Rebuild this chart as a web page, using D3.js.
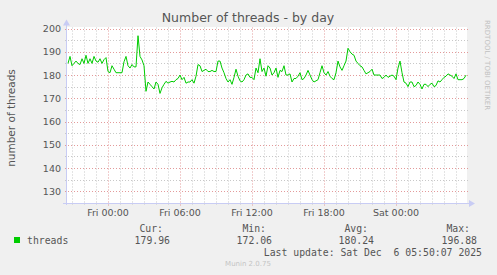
<!DOCTYPE html>
<html>
<head>
<meta charset="utf-8">
<script src="https://cdn.jsdelivr.net/npm/d3@7"></script>
<style>
  html, body { margin: 0; padding: 0; background: #f0f0f0; }
  svg { display: block; }
</style>
</head>
<body>
<div id="chart"></div>
<script>
// threads samples, one every 10 minutes from Thu Dec 4 20:40
var seriesStart = new Date(2025, 11, 4, 20, 40);
var stepMinutes = 10;
var threads = [
  185, 188, 184, 185, 186, 185, 184.5, 187, 185, 188.5,
  185, 187, 185, 188, 186, 185.5, 187, 185, 186.6, 187.5,
  181.5, 181, 184, 182.5, 181, 181, 181, 181, 185.7, 188,
  184, 183, 184.5, 183.5, 183.5, 196.9, 188, 186.5, 184, 173,
  177, 176, 175, 174, 177, 176, 172.1, 174.5, 176, 177.3,
  176.5, 177, 177.3, 177, 178, 178.5, 180, 178, 179, 176.5,
  177, 177, 178, 176.5, 179.5, 184.5, 184, 181.5, 182, 182.5,
  181.5, 181.5, 182, 181.5, 181.5, 186, 186, 183, 181, 178.5,
  177, 178, 176, 179, 182.5, 179.5, 177.5, 177, 178, 180,
  180.5, 179, 179, 178, 183, 181, 187, 181.5, 183, 179.5,
  184, 183, 180, 181, 183, 179, 182, 181.5, 184, 180,
  180, 180.5, 177, 178.5, 178.5, 179.5, 181, 178, 178.5, 180,
  182, 180, 178, 177, 177.5, 178, 181, 184, 181, 180,
  181.5, 179.5, 178.5, 178, 181, 186, 183.5, 182, 184, 186,
  191.5, 190, 189, 188.5, 186, 185, 184, 183.5, 182, 180.5,
  181, 181.5, 182.5, 180, 180, 180, 180, 178.5, 179, 180,
  179, 179.5, 180, 179.5, 178, 183, 186, 181, 177, 176.5,
  175, 177, 177, 175, 175.5, 177, 176, 174, 176, 176,
  175, 176, 176.5, 175, 175.5, 177.5, 177, 178, 179, 179.5,
  180.5, 180, 179.5, 178.5, 180.5, 178, 178, 178, 178.5, 179.96
];
var yTicks = [130, 140, 150, 160, 170, 180, 190, 200];
var statLabels = ["Cur:", "Min:", "Avg:", "Max:"];
var statValues = ["179.96", "172.06", "180.24", "196.88"];
var seriesName = "threads";
var lastUpdate = "Last update: Sat Dec  6 05:50:07 2025";

var width = 497, height = 275;
var plot = { left: 67, right: 467, top: 28.5, bottom: 203 };

var svg = d3.select("#chart").append("svg")
    .attr("width", width)
    .attr("height", height)
    .style("background", "#f0f0f0");

var data = threads.map(function(v, i) {
    return { t: new Date(seriesStart.getTime() + i * stepMinutes * 60000), v: v };
});

var x = d3.scaleTime()
    .domain([new Date(2025, 11, 4, 20, 35), new Date(2025, 11, 6, 5, 55)])
    .range([plot.left, plot.right]);
var y = d3.scaleLinear()
    .domain([125, 200])
    .range([plot.bottom, plot.top]);

// white canvas
svg.append("rect")
    .attr("x", plot.left)
    .attr("y", plot.top - 1.5)
    .attr("width", plot.right - plot.left)
    .attr("height", plot.bottom - plot.top + 1.5)
    .attr("fill", "#ffffff");

// minor grid
var minorY = d3.range(135, 200, 10);
svg.append("g").selectAll("line").data(minorY).enter().append("line")
    .attr("x1", plot.left - 2).attr("x2", plot.right + 1)
    .attr("y1", function(d) { return Math.round(y(d)) + 0.5; })
    .attr("y2", function(d) { return Math.round(y(d)) + 0.5; })
    .attr("stroke", "#c8c8c8").attr("stroke-dasharray", "1,2");

var minorX = x.ticks(d3.timeHour.every(1)).filter(function(d) { return d.getHours() % 6 != 0; });
svg.append("g").selectAll("line").data(minorX).enter().append("line")
    .attr("x1", function(d) { return Math.round(x(d)) + 0.5; })
    .attr("x2", function(d) { return Math.round(x(d)) + 0.5; })
    .attr("y1", plot.top - 1).attr("y2", plot.bottom + 2)
    .attr("stroke", "#c8c8c8").attr("stroke-dasharray", "1,2");

// major grid
svg.append("g").selectAll("line").data(yTicks).enter().append("line")
    .attr("x1", plot.left - 2).attr("x2", plot.right + 1)
    .attr("y1", function(d) { return Math.round(y(d)) + 0.5; })
    .attr("y2", function(d) { return Math.round(y(d)) + 0.5; })
    .attr("stroke", "#e39a9a").attr("stroke-dasharray", "1,2");

var majorX = x.ticks(d3.timeHour.every(6));
svg.append("g").selectAll("line").data(majorX).enter().append("line")
    .attr("x1", function(d) { return Math.round(x(d)) + 0.5; })
    .attr("x2", function(d) { return Math.round(x(d)) + 0.5; })
    .attr("y1", plot.top - 1).attr("y2", plot.bottom + 3)
    .attr("stroke", "#e39a9a").attr("stroke-dasharray", "1,2");

// axes lines with arrows
var axisColor = "#c8ccf4";
svg.append("line")
    .attr("x1", plot.left - 0.5).attr("x2", plot.left - 0.5)
    .attr("y1", plot.bottom + 2).attr("y2", plot.top - 6)
    .attr("stroke", axisColor);
svg.append("path")
    .attr("d", "M" + (plot.left - 4) + "," + (plot.top - 3) + "L" + (plot.left - 0.5) + "," + (plot.top - 9) + "L" + (plot.left + 3) + "," + (plot.top - 3) + "Z")
    .attr("fill", axisColor);
svg.append("line")
    .attr("x1", plot.left - 4).attr("x2", plot.right + 4)
    .attr("y1", plot.bottom + 0.5).attr("y2", plot.bottom + 0.5)
    .attr("stroke", axisColor);
svg.append("path")
    .attr("d", "M" + (plot.right + 2) + "," + (plot.bottom - 3) + "L" + (plot.right + 8) + "," + (plot.bottom + 0.5) + "L" + (plot.right + 2) + "," + (plot.bottom + 4) + "Z")
    .attr("fill", axisColor);

// the series line
var line = d3.line()
    .x(function(d) { return x(d.t); })
    .y(function(d) { return y(d.v); });
svg.append("path")
    .datum(data)
    .attr("d", line)
    .attr("fill", "none")
    .attr("stroke", "#00cc00")
    .attr("stroke-width", 1);

// tick labels
var labelFont = "'DejaVu Sans', sans-serif";
var labelColor = "#555555";
svg.append("g").selectAll("text").data(yTicks).enter().append("text")
    .attr("x", plot.left - 6)
    .attr("y", function(d) { return y(d) + 3.5; })
    .attr("text-anchor", "end")
    .attr("font-family", labelFont)
    .attr("font-size", "9.5px")
    .attr("fill", labelColor)
    .text(function(d) { return d; });

svg.append("g").selectAll("text").data(majorX).enter().append("text")
    .attr("x", function(d) { return x(d); })
    .attr("y", plot.bottom + 13)
    .attr("text-anchor", "middle")
    .attr("font-family", labelFont)
    .attr("font-size", "9.5px")
    .attr("fill", labelColor)
    .text(d3.timeFormat("%a %H:%M"));

// title and axis label
svg.append("text")
    .attr("x", 248)
    .attr("y", 22)
    .attr("text-anchor", "middle")
    .attr("font-family", labelFont)
    .attr("font-size", "12.5px")
    .attr("fill", labelColor)
    .text("Number of threads - by day");

svg.append("text")
    .attr("transform", "translate(15," + 118 + ") rotate(-90)")
    .attr("text-anchor", "middle")
    .attr("font-family", labelFont)
    .attr("font-size", "10.5px")
    .attr("fill", labelColor)
    .text("number of threads");

svg.append("text")
    .attr("transform", "translate(485,20) rotate(90)")
    .attr("font-family", labelFont)
    .attr("font-size", "7px")
    .attr("fill", "#c0c0c0")
    .text("RRDTOOL / TOBI OETIKER");

// legend
var mono = "'DejaVu Sans Mono', monospace";
svg.append("rect")
    .attr("x", 14).attr("y", 237)
    .attr("width", 6).attr("height", 6)
    .attr("fill", "#00cc00");
svg.append("text")
    .attr("x", 27).attr("y", 244)
    .attr("font-family", mono).attr("font-size", "9.8px")
    .attr("fill", labelColor)
    .text(seriesName);

var statRight = [163, 266, 368, 470];
var valueRight = [170, 272, 374, 477];
svg.append("g").selectAll("text").data(statLabels).enter().append("text")
    .attr("x", function(d, i) { return statRight[i]; })
    .attr("y", 232)
    .attr("text-anchor", "end")
    .attr("font-family", mono).attr("font-size", "9.8px")
    .attr("fill", labelColor)
    .text(function(d) { return d; });
svg.append("g").selectAll("text").data(statValues).enter().append("text")
    .attr("x", function(d, i) { return valueRight[i]; })
    .attr("y", 244)
    .attr("text-anchor", "end")
    .attr("font-family", mono).attr("font-size", "9.8px")
    .attr("fill", labelColor)
    .text(function(d) { return d; });

svg.append("text")
    .attr("x", 482).attr("y", 256)
    .attr("text-anchor", "end")
    .attr("xml:space", "preserve")
    .style("white-space", "pre")
    .attr("font-family", mono).attr("font-size", "9.8px")
    .attr("fill", labelColor)
    .text(lastUpdate);

svg.append("text")
    .attr("x", 248).attr("y", 266)
    .attr("text-anchor", "middle")
    .attr("font-family", labelFont)
    .attr("font-size", "7px")
    .attr("fill", "#c4c4c4")
    .text("Munin 2.0.75");
</script>
</body>
</html>
